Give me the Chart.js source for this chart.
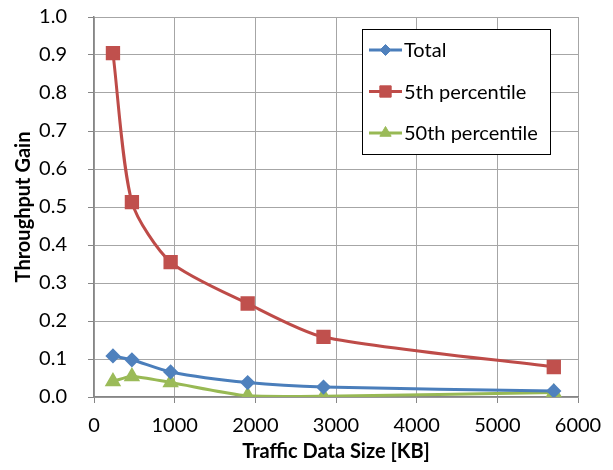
<!DOCTYPE html>
<html>
<head>
<meta charset="utf-8">
<script src="https://cdn.jsdelivr.net/npm/chart.js@4.4.1/dist/chart.umd.min.js"></script>
<style>
  html, body { margin: 0; padding: 0; background: #fff; }
  #wrap { width: 613px; height: 470px; }
</style>
</head>
<body>
<div id="wrap"><canvas id="myChart" width="613" height="470"></canvas></div>
<script>
// data
const sizesKB = [235, 470, 950, 1905, 2845, 5700];
const totalGain = [0.108, 0.098, 0.066, 0.038, 0.026, 0.016];
const p5Gain = [0.905, 0.513, 0.355, 0.246, 0.158, 0.079];
const p50Gain = [0.041, 0.054, 0.038, 0.003, 0.002, 0.012];
const seriesNames = ['Total', '5th percentile', '50th percentile'];

const FONT = 'Lato, "Open Sans", sans-serif';

function pts(ys) {
  return sizesKB.map((x, i) => ({ x: x, y: ys[i] }));
}

// legend box drawn inside the plot, Excel style
const boxLegend = {
  id: 'boxLegend',
  afterDraw(chart) {
    const ctx = chart.ctx;
    const x0 = 362, y0 = 29, w = 188, h = 125;
    ctx.save();
    ctx.fillStyle = '#fff';
    ctx.fillRect(x0, y0, w, h);
    ctx.strokeStyle = '#000';
    ctx.lineWidth = 1;
    ctx.strokeRect(x0 + 0.5, y0 + 0.5, w, h);
    chart.data.datasets.forEach((ds, i) => {
      const y = 50 + i * 41.5;
      ctx.strokeStyle = ds.borderColor;
      ctx.lineWidth = 3;
      ctx.beginPath();
      ctx.moveTo(369, y);
      ctx.lineTo(402, y);
      ctx.stroke();
      ctx.fillStyle = ds.pointBackgroundColor;
      ctx.strokeStyle = ds.pointBorderColor;
      ctx.lineWidth = 1;
      Chart.helpers.drawPoint(ctx, {
        pointStyle: ds.pointStyle,
        radius: ds.pointRadius,
        rotation: 0,
        borderWidth: 1
      }, 385.5, y);
      ctx.fillStyle = '#000';
      ctx.font = '20px ' + FONT;
      ctx.textBaseline = 'middle';
      ctx.textAlign = 'left';
      ctx.fillText(ds.label, 404, y + 1);
    });
    ctx.restore();
  }
};

const ctx = document.getElementById('myChart');

new Chart(ctx, {
  type: 'line',
  data: {
    datasets: [
      {
        label: seriesNames[0],
        data: pts(totalGain),
        borderColor: '#4A7EBB',
        backgroundColor: '#4F81BD',
        pointBackgroundColor: '#4F81BD',
        pointBorderColor: '#4F81BD',
        pointStyle: 'rectRot',
        pointRadius: 5.5,
        borderWidth: 3,
        tension: 0.25,
      },
      {
        label: seriesNames[1],
        data: pts(p5Gain),
        borderColor: '#BE4B48',
        backgroundColor: '#C0504D',
        pointBackgroundColor: '#C0504D',
        pointBorderColor: '#C0504D',
        pointStyle: 'rect',
        pointRadius: 8,
        borderWidth: 3,
        tension: 0.25,
      },
      {
        label: seriesNames[2],
        data: pts(p50Gain),
        borderColor: '#98B954',
        backgroundColor: '#9BBB59',
        pointBackgroundColor: '#9BBB59',
        pointBorderColor: '#9BBB59',
        pointStyle: 'triangle',
        pointRadius: 6.5,
        borderWidth: 3,
        tension: 0.25,
      },
    ],
  },
  options: {
    responsive: false,
    animation: false,
    layout: { padding: { top: 17, right: 35, left: 0, bottom: 0 } },
    plugins: {
      legend: { display: false },
      tooltip: { enabled: false },
    },
    scales: {
      x: {
        type: 'linear',
        min: 0,
        max: 6000,
        ticks: {
          stepSize: 1000,
          color: '#000',
          font: { family: FONT, size: 20 },
          padding: 11,
          maxRotation: 0,
          callback: (v) => String(v),
        },
        grid: { color: '#a6a6a6', tickLength: 6, tickColor: '#868686' },
        border: { color: '#868686', width: 1.5 },
        title: {
          display: true,
          text: 'Traffic Data Size [KB]',
          color: '#000',
          font: { family: FONT, size: 20, weight: 'bold' },
          padding: { top: 2, bottom: 6 },
        },
        afterFit(scale) { scale.height = 73; },
      },
      y: {
        min: 0,
        max: 1,
        ticks: {
          stepSize: 0.1,
          color: '#000',
          font: { family: FONT, size: 20 },
          padding: 21,
          callback: (v) => v.toFixed(1),
        },
        grid: { color: '#a6a6a6', tickLength: 6, tickColor: '#868686' },
        border: { color: '#868686', width: 1.5 },
        title: {
          display: true,
          text: 'Throughput Gain',
          color: '#000',
          font: { family: FONT, size: 20, weight: 'bold' },
          padding: { top: 12, bottom: 0 },
        },
        afterFit(scale) {
          scale.width = 94;
          scale.paddingTop = 0;
          scale.paddingBottom = 0;
        },
      },
    },
  },
  plugins: [boxLegend],
});
</script>
</body>
</html>
